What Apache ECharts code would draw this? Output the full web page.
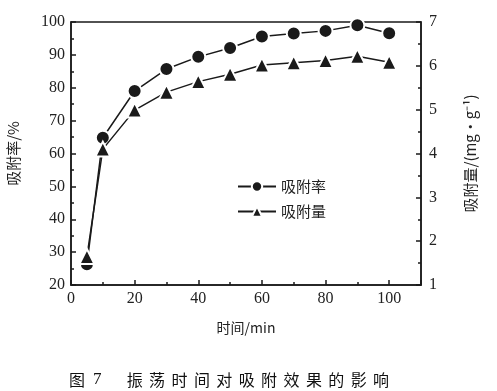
<!DOCTYPE html>
<html><head><meta charset="utf-8">
<script src="https://cdn.jsdelivr.net/npm/echarts@6/dist/echarts.min.js"></script>
<style>html,body{margin:0;padding:0;background:#fff}#c{width:497px;height:391px}</style>
</head><body><div id="c"></div>
<script>
const times = [5, 10, 20, 30, 40, 50, 60, 70, 80, 90, 100];
const rateValues = [26.3, 64.8, 79.0, 85.7, 89.4, 92.1, 95.6, 96.5, 97.3, 99.0, 96.6];
const amountValues = [1.65, 4.10, 4.99, 5.40, 5.64, 5.81, 6.02, 6.07, 6.12, 6.22, 6.08];
const rateName = '吸附率';
const amountName = '吸附量';
const xName = '时间/min';
const yLeftName = '吸附率/%';
const yRightName = '吸附量/(mg·g⁻¹)';
const captionLabel = ['图', '7'];
const captionText = '振荡时间对吸附效果的影响';

const serif = 'Times New Roman, Liberation Serif, DejaVu Serif, serif';
const cjk = 'Noto Sans CJK SC';
const lineColor = '#1a1a1a';
const axisLineStyle = {color: lineColor, width: 1.5};

const captionRich = '{a|' + captionLabel[0] + '}{b|' + captionLabel[1] + '}' +
  captionText.split('').map(ch => '{c|' + ch + '}').join('');

const chart = echarts.init(document.getElementById('c'));
chart.setOption({
  backgroundColor: '#fff',
  animation: false,
  textStyle: {fontFamily: serif},
  title: {
    text: captionRich, left: 62, top: 366,
    textStyle: {
      fontFamily: cjk, fontSize: 16, fontWeight: 'normal', color: '#111',
      rich: {
        a: {fontFamily: cjk, fontSize: 16, color: '#111', padding: [0, 8, 0, 2]},
        b: {fontFamily: serif, fontSize: 17, color: '#111', padding: [0, 22, 0, 0]},
        c: {fontFamily: cjk, fontSize: 16, color: '#111', padding: [0, 3.2, 0, 3.2]}
      }
    }
  },
  legend: {
    orient: 'vertical', left: 232, top: 174, itemGap: 10,
    itemWidth: 38, itemHeight: 13,
    textStyle: {fontFamily: cjk, fontSize: 15, color: '#222'},
    data: [rateName, amountName]
  },
  grid: {left: 71, right: 76, top: 22, bottom: 106, outerBoundsMode: 'none', containLabel: false,
    show: true, borderColor: lineColor, borderWidth: 1.5},
  xAxis: {
    type: 'value', min: 0, max: 110, interval: 20,
    name: xName, nameLocation: 'middle', nameGap: 36,
    nameTextStyle: {fontFamily: cjk, fontSize: 14, color: '#222'},
    axisLine: {lineStyle: axisLineStyle},
    axisTick: {show: true, inside: true, length: 5, lineStyle: axisLineStyle},
    minorTick: {show: true, splitNumber: 2, length: 3, lineStyle: axisLineStyle},
    splitLine: {show: false},
    axisLabel: {fontFamily: serif, fontSize: 16, color: '#222', margin: 6,
      formatter: v => (v > 100 ? '' : v)}
  },
  yAxis: [{
    type: 'value', min: 20, max: 100, interval: 10, position: 'left',
    name: yLeftName, nameLocation: 'middle', nameGap: 50, nameRotate: 90,
    nameTextStyle: {fontFamily: cjk, fontSize: 15, color: '#222'},
    axisLine: {show: true, lineStyle: axisLineStyle},
    axisTick: {show: true, inside: true, length: 5, lineStyle: axisLineStyle},
    minorTick: {show: true, splitNumber: 2, length: 3, lineStyle: axisLineStyle},
    splitLine: {show: false},
    axisLabel: {fontFamily: serif, fontSize: 16, color: '#222', margin: 6}
  }, {
    type: 'value', min: 1, max: 7, interval: 1, position: 'right',
    name: yRightName, nameLocation: 'middle', nameGap: 42, nameRotate: 90,
    nameTextStyle: {fontFamily: cjk, fontSize: 15, color: '#222'},
    axisLine: {show: true, lineStyle: axisLineStyle},
    axisTick: {show: true, inside: true, length: 5, lineStyle: axisLineStyle},
    minorTick: {show: true, splitNumber: 2, length: 3, lineStyle: axisLineStyle},
    splitLine: {show: false},
    axisLabel: {fontFamily: serif, fontSize: 16, color: '#222', margin: 8}
  }],
  series: [{
    name: rateName, type: 'line', yAxisIndex: 0,
    data: times.map((t, i) => [t, rateValues[i]]),
    symbol: 'circle', symbolSize: 14,
    lineStyle: {color: lineColor, width: 1.5},
    itemStyle: {color: lineColor, borderColor: '#fff', borderWidth: 2},
    z: 2
  }, {
    name: amountName, type: 'line', yAxisIndex: 1,
    data: times.map((t, i) => [t, amountValues[i]]),
    symbol: 'triangle', symbolSize: 15,
    lineStyle: {color: lineColor, width: 1.5},
    itemStyle: {color: lineColor, borderColor: '#fff', borderWidth: 2},
    z: 3
  }]
});
</script></body></html>
